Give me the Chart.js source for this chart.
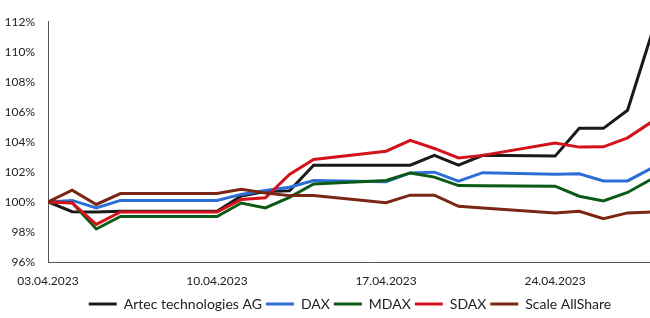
<!DOCTYPE html>
<html>
<head>
<meta charset="utf-8">
<script src="https://cdn.jsdelivr.net/npm/chart.js@4"></script>
<style>
html,body{margin:0;padding:0;background:#fff;overflow:hidden;}
#wrap{width:700px;height:322px;position:relative;}
</style>
</head>
<body>
<div id="wrap"><canvas id="c"></canvas></div>
<script>
// Day of April 2023 for each data point
const days = [3,4,5,6,7,10,11,12,13,14,17,18,19,20,21,24,25,26,27,28];
const xTickDays = [3,10,17,24];
const yTicks = [96,98,100,102,104,106,108,110,112];
const seriesNames = ["Artec technologies AG","DAX","MDAX","SDAX","Scale AllShare"];
const artec = [100,99.35,99.33,99.38,99.38,99.38,100.4,100.7,100.75,102.45,102.45,102.45,103.1,102.45,103.1,103.05,104.9,104.9,106.1,111.2];
const dax   = [100,100.1,99.6,100.1,100.1,100.1,100.5,100.76,100.98,101.43,101.35,101.93,101.98,101.38,101.95,101.85,101.88,101.4,101.4,102.25];
const mdax  = [100,99.95,98.2,99.03,99.03,99.03,99.93,99.6,100.3,101.2,101.43,101.93,101.65,101.09,101.07,101.05,100.38,100.07,100.63,101.53];
const sdax  = [100,99.93,98.5,99.33,99.33,99.33,100.16,100.27,101.83,102.83,103.38,104.1,103.56,102.93,103.1,103.93,103.65,103.67,104.27,105.33];
const scale = [100,100.78,99.83,100.56,100.56,100.56,100.84,100.6,100.42,100.42,99.95,100.45,100.45,99.71,99.6,99.27,99.38,98.89,99.27,99.33];

const colors = ["#1a1a1a","#2b6fd6","#0d5a16","#d3121b","#7a2612"];
const values = [artec,dax,mdax,sdax,scale];
const pts = arr => days.map((d,i)=>({x:d,y:arr[i]}));

const datasets = values.map((v,i)=>({
  label: seriesNames[i],
  data: pts(v),
  borderColor: colors[i],
  backgroundColor: colors[i],
  borderWidth: 3,
  pointRadius: 0,
  tension: 0,
  order: 5 - i
}));

const FONT = "Lato, 'Noto Sans', sans-serif";

new Chart(document.getElementById('c'), {
  type: 'line',
  data: {datasets},
  options: {
    responsive: true,
    maintainAspectRatio: false,
    animation: false,
    layout: {padding: {top: 21.7, right: 0, left: 0, bottom: 1}},
    plugins: {
      tooltip: {enabled: false},
      legend: {
        position: 'bottom',
        labels: {
          sort: (a,b) => a.datasetIndex - b.datasetIndex,
          usePointStyle: true,
          pointStyle: 'line',
          pointStyleWidth: 28,
          boxHeight: 13,
          padding: 4,
          color: '#222',
          font: {family: FONT, size: 14}
        }
      }
    },
    scales: {
      x: {
        type: 'linear',
        min: 3,
        max: 30,
        afterBuildTicks: s => { s.ticks = xTickDays.map(v=>({value:v})); },
        afterFit: s => { s.height = 31; },
        grid: {display: false, drawOnChartArea: false, drawTicks: true, tickLength: 5, tickColor: '#555'},
        border: {display: true, color: '#555', width: 1},
        ticks: {
          color: '#222',
          font: {family: FONT, size: 12},
          maxRotation: 0,
          padding: 7,
          callback: v => String(v).padStart(2,'0') + '.04.2023'
        }
      },
      y: {
        min: 96,
        max: 112,
        afterBuildTicks: s => { s.ticks = yTicks.map(v=>({value:v})); },
        afterFit: s => { s.width = 48; },
        grid: {display: false, drawOnChartArea: false, drawTicks: true, tickLength: 4, tickColor: '#555'},
        border: {display: true, color: '#555', width: 1},
        ticks: {
          color: '#222',
          font: {family: FONT, size: 12},
          padding: 9,
          callback: v => v + '%'
        }
      }
    }
  }
});
</script>
</body>
</html>
